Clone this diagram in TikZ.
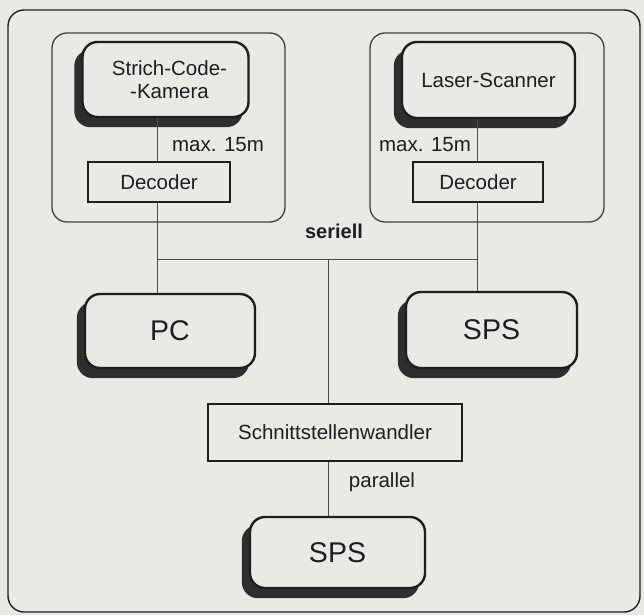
\documentclass[tikz,border=0pt]{standalone}
\usepackage{fontspec}
\setmainfont{Liberation Sans}
\definecolor{paper}{HTML}{E8EAE5}
\definecolor{ink}{HTML}{1E1E1E}
\definecolor{shade}{HTML}{2E2E2E}
\tikzset{
  devbox/.style={draw=ink, line width=2.4pt, rounded corners=15pt, fill=paper,
    inner sep=0pt, font=\fontsize{20.5}{23}\selectfont, align=center, text=ink},
  bigdev/.style={devbox, font=\fontsize{28.5}{30}\selectfont},
  squarebox/.style={draw=ink, line width=2pt, fill=paper, inner sep=0pt,
    font=\fontsize{20.5}{23}\selectfont, text=ink},
  groupbox/.style={draw=ink!85, line width=1.3pt, rounded corners=15pt},
  wire/.style={draw=ink!80, line width=1pt},
  lbl/.style={font=\fontsize{20.5}{23}\selectfont, text=ink, inner sep=0pt},
  shadowed/.style={preaction={fill=shade, draw=shade, line width=2.4pt,
    transform canvas={xshift=-7pt, yshift=-9pt}}}
}
\begin{document}
\begin{tikzpicture}[x=1pt, y=-1pt]
  % paper and outer frame
  \fill[paper] (0,0) rectangle (644,615);
  \useasboundingbox (0,0) rectangle (644,615);
  \draw[ink, line width=1.4pt, rounded corners=16pt] (8,10) rectangle (640,612);

  % sensor groups
  \draw[groupbox] (52,33) rectangle (285,222);
  \draw[groupbox] (370,33) rectangle (604,222);

  % devices
  \node[devbox, shadowed, minimum width=166pt, minimum height=75pt] (cam) at (165.5,79.5)
    {\hspace*{8pt}Strich-Code-\\\hspace*{8pt}-Kamera};
  \node[devbox, shadowed, minimum width=173pt, minimum height=76pt] (laser) at (488.5,80)
    {Laser-Scanner};
  \node[squarebox, minimum width=142pt, minimum height=40pt] (decl) at (159,182) {Decoder};
  \node[squarebox, minimum width=130pt, minimum height=40pt] (decr) at (478,182) {Decoder};
  \node[bigdev, shadowed, minimum width=170pt, minimum height=74pt] (pc) at (170,331) {PC};
  \node[bigdev, shadowed, minimum width=171pt, minimum height=76pt] (sps) at (491.5,330) {SPS};
  \node[squarebox, minimum width=254pt, minimum height=57pt] (conv) at (335,432.5)
    {Schnittstellenwandler};
  \node[bigdev, shadowed, minimum width=175pt, minimum height=71pt] (spsb) at (337.5,552.5) {SPS};

  % serial bus junctions
  \coordinate (jl) at (157,259);
  \coordinate (jm) at (328,259);
  \coordinate (jr) at (477,259);

  % connectors
  \draw[wire] (cam.south -| jl) -- (decl.north -| jl);
  \draw[wire] (decl.south -| jl) -- (pc.north -| jl);
  \draw[wire] (laser.south -| jr) -- (decr.north -| jr);
  \draw[wire] (decr.south -| jr) -- (sps.north -| jr);
  \draw[wire] (jl) -- (jr);
  \draw[wire] (jm) -- (conv.north -| jm);
  \draw[wire] (conv.south -| jm) -- (spsb.north -| jm);

  % labels
  \node[lbl] (lenl) at (218,145) {max. 15m};
  \node[lbl] (lenr) at (425,145) {max. 15m};
  \node[lbl, font=\fontsize{20}{22}\selectfont\bfseries] (ser) at (334,231) {seriell};
  \node[lbl] (par) at (382,482) {parallel};
\end{tikzpicture}
\end{document}
